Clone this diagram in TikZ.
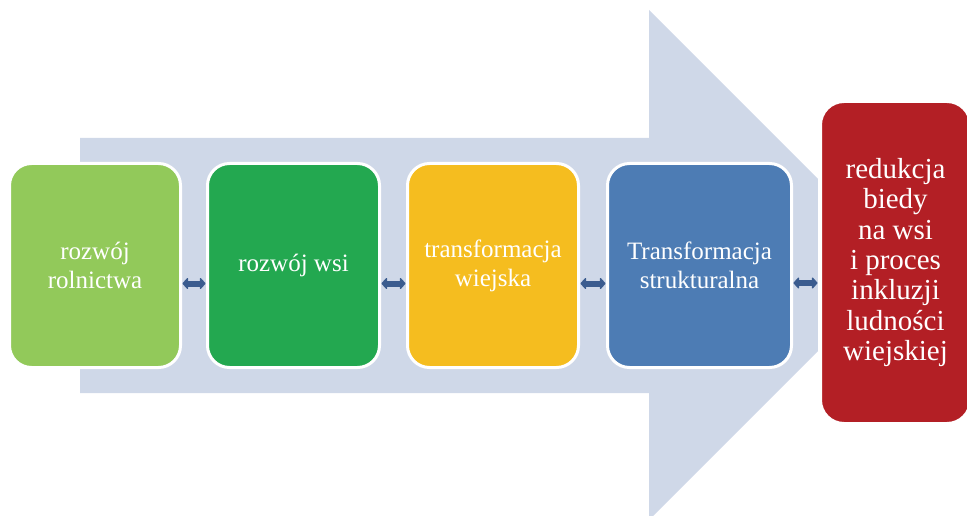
\documentclass[tikz,border=0pt]{standalone}
\usepackage{fontspec}
\setmainfont{Liberation Serif}
\usetikzlibrary{arrows.meta}
\definecolor{bgarrow}{HTML}{CFD8E8}
\definecolor{cA}{HTML}{92C95A}
\definecolor{cB}{HTML}{23A850}
\definecolor{cC}{HTML}{F5BD1F}
\definecolor{cD}{HTML}{4D7CB4}
\definecolor{cE}{HTML}{B31F25}
\definecolor{darrow}{HTML}{3B5C8F}
\tikzset{
  box/.style={draw=white, line width=3pt, rounded corners=22pt, text=white,
    align=center, inner sep=2pt, minimum height=204pt,
    font=\fontsize{25}{29}\selectfont},
  bigbox/.style={draw=white, line width=4pt, rounded corners=24pt, text=white,
    align=center, inner sep=2pt, minimum height=323pt, minimum width=151pt,
    font=\fontsize{29}{30.3}\selectfont},
  dblarrow/.style={draw=darrow, line width=6pt,
    {Triangle[length=6pt,width=13pt,round]}-{Triangle[length=6pt,width=13pt,round]}, shorten <=0.5pt, shorten >=0.5pt}
}
\begin{document}
\begin{tikzpicture}[x=1pt,y=-1pt]
\useasboundingbox (0,0) rectangle (967,516);
\fill[bgarrow] (80,138) -- (649,138) -- (649,10) -- (904,265) -- (649,520) -- (649,393) -- (80,393) -- cycle;
\node[box, fill=cA, minimum width=171pt] (b1) at (95,265.5) {rozwój\\rolnictwa};
\node[box, fill=cB, minimum width=172pt] (b2) at (293.5,265.5) {rozwój wsi};
\node[box, fill=cC, minimum width=171pt] (b3) at (493,265.5) {transformacja\\wiejska};
\node[box, fill=cD, minimum width=184pt] (b4) at (699.5,265.5) {Transformacja\\strukturalna};
\node[bigbox, fill=cE] (b5) at (895.5,262.5) {redukcja\\biedy\\na wsi\\i proces\\inkluzji\\ludności\\wiejskiej};
\draw[dblarrow] ([yshift=-18pt]b1.east) -- ([yshift=-18pt]b2.west);
\draw[dblarrow] ([yshift=-18pt]b2.east) -- ([yshift=-18pt]b3.west);
\draw[dblarrow] ([yshift=-18pt]b3.east) -- ([yshift=-18pt]b4.west);
\draw[dblarrow] (b4.east |- 0,283) -- (b5.west |- 0,283);
\end{tikzpicture}
\end{document}
